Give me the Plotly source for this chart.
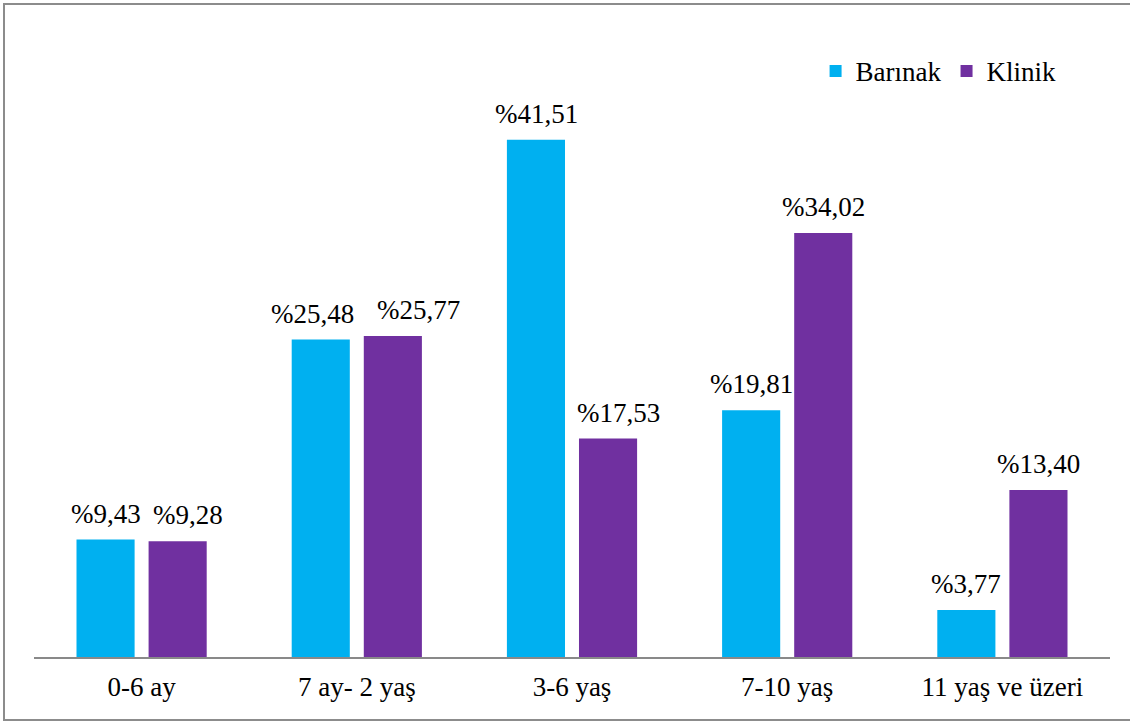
import plotly.graph_objects as go

# Age groups and percentage shares for each source
categories = ["0-6 ay", "7 ay- 2 yaş", "3-6 yaş", "7-10 yaş", "11 yaş ve üzeri"]
barinak = [9.43, 25.48, 41.51, 19.81, 3.77]
klinik = [9.28, 25.77, 17.53, 34.02, 13.40]
series_names = ["Barınak", "Klinik"]
series_colors = ["#00B0F0", "#7030A0"]

FONT = "Liberation Serif"
FS = 27

# Horizontal nudges (px) so neighbouring value labels don't collide
label_nudge = {
    "Barınak": [0, -8, 0, 0, 0],
    "Klinik": [10, 26, 10, 0, 0],
}


def pct(v):
    return "%" + f"{v:.2f}".replace(".", ",")


fig = go.Figure()
for name, vals, color in zip(series_names, [barinak, klinik], series_colors):
    fig.add_trace(go.Bar(
        name=name,
        x=categories,
        y=vals,
        marker=dict(color=color, line=dict(width=0)),
        offsetgroup=name,
    ))

# Value labels above each bar
n = len(series_names)
annotations = []
for si, (name, vals) in enumerate(zip(series_names, [barinak, klinik])):
    for ci, v in enumerate(vals):
        annotations.append(dict(
            x=ci, y=v, xref="x", yref="y",
            text=pct(v), showarrow=False,
            xshift=(si - (n - 1) / 2) * 72 + label_nudge[name][ci],
            yanchor="bottom", yshift=9,
            font=dict(family=FONT, size=FS, color="#000000"),
        ))

fig.update_layout(
    width=1130, height=722,
    margin=dict(l=34, r=20, t=34, b=65),
    paper_bgcolor="#FFFFFF", plot_bgcolor="#FFFFFF",
    barmode="group", bargap=0.33, bargroupgap=0.194,
    font=dict(family=FONT, size=FS, color="#000000"),
    showlegend=True,
    legend=dict(
        orientation="h", x=0.955, xanchor="right", y=0.94, yanchor="middle",
        font=dict(family=FONT, size=FS, color="#000000"),
        itemwidth=30, bgcolor="rgba(0,0,0,0)", traceorder="normal",
    ),
    xaxis=dict(
        type="category", showgrid=False, zeroline=False,
        showline=True, linecolor="#898989", linewidth=2,
        ticks="", tickfont=dict(family=FONT, size=FS, color="#000000"),
        ticklabelstandoff=5,
    ),
    yaxis=dict(
        range=[0, 50], visible=False, showgrid=False, zeroline=False,
    ),
    annotations=annotations,
    shapes=[dict(
        type="rect", xref="paper", yref="paper",
        x0=-30 / 1076, x1=1140 / 1076,
        y0=-63 / 623, y1=1 + 30 / 623,
        line=dict(color="#8C8C8C", width=2), fillcolor="rgba(0,0,0,0)",
        layer="below",
    )],
)

fig.write_html("out.html")
